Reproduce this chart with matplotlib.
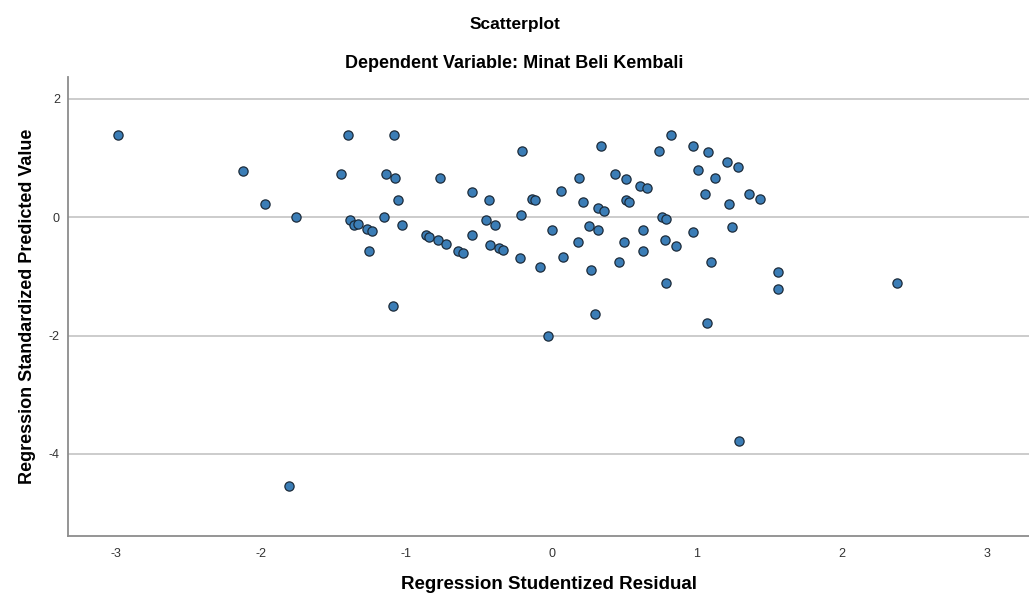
import numpy as np
import matplotlib
matplotlib.use("Agg")
import matplotlib.pyplot as plt

plt.rcParams['font.family'] = ['Liberation Sans', 'DejaVu Sans']
plt.rcParams['axes.unicode_minus'] = False

# studentized residual (x) and standardized predicted value (y)
resid = [-2.989, -2.129, -1.973, -1.762, -1.450, -1.404, -1.392, -1.363, -1.337, -1.271,
         -1.237, -1.257, -1.156, -1.138, -1.087, -1.078, -1.060, -1.028, -1.096, -0.867,
         -0.847, -0.785, -0.727, -0.766, -0.645, -0.610, -0.546, -0.551, -0.434, -0.452,
         -0.392, -0.427, -0.363, -0.332, -0.218, -0.213, -0.206, -0.138, -0.115, -0.081,
         -0.028, 0.000, 0.062, 0.076, 0.179, 0.186, 0.220, 0.257, 0.270, 0.298,
         0.317, 0.317, 0.344, 0.358, 0.438, 0.468, 0.496, 0.516, 0.516, 0.537,
         0.610, 0.656, 0.633, 0.628, 0.738, 0.759, 0.791, 0.785, 0.789, 0.860,
         0.826, 0.975, 1.010, 0.977, 1.076, 1.127, 1.055, 1.096, 1.069, 1.209,
         1.285, 1.220, 1.246, 1.358, 1.436, 1.558, 1.558, 2.381, -1.811, 1.294]
pred = [1.390, 0.782, 0.220, 0.010, 0.736, 1.390, -0.051, -0.130, -0.118, -0.203,
        -0.236, -0.574, 0.010, 0.736, 1.390, 0.664, 0.287, -0.125, -1.498, -0.304,
        -0.328, -0.389, -0.456, 0.664, -0.574, -0.598, 0.422, -0.304, 0.287, -0.051,
        -0.125, -0.463, -0.524, -0.552, -0.682, 0.034, 1.120, 0.309, 0.287, -0.840,
        -2.000, -0.209, 0.444, -0.666, -0.417, 0.664, 0.264, -0.142, -0.890, -1.633,
        0.157, -0.209, 1.209, 0.106, 0.736, -0.755, -0.417, 0.647, 0.287, 0.264,
        0.534, 0.490, -0.209, -0.574, 1.120, 0.010, -0.029, -0.389, -1.115, -0.480,
        1.390, 1.209, 0.804, -0.253, 1.098, 0.664, 0.399, -0.755, -1.791, 0.939,
        0.850, 0.220, -0.164, 0.399, 0.309, -0.919, -1.211, -1.115, -4.551, -3.779]

xticks = [-3, -2, -1, 0, 1, 2, 3]
yticks = [-4, -2, 0, 2]

fig = plt.figure(figsize=(10.29, 6), dpi=100)
ax = fig.add_axes([0.0664, 0.1067, 0.9336, 0.7655])

ax.scatter(resid, pred, s=44, c='#3b7db6', edgecolors='#1c2b3a', linewidths=0.9, zorder=3)

ax.set_xlim(-3.33, 3.29)
ax.set_ylim(-5.39, 2.377)
ax.set_xticks(xticks)
ax.set_yticks(yticks)
ax.tick_params(length=0, labelsize=9, labelcolor='#333333')
ax.tick_params(axis='x', pad=9)
ax.tick_params(axis='y', pad=6)
ax.yaxis.grid(True, color='#c8c8c8', linewidth=1.3)
ax.set_axisbelow(True)

for side in ['top', 'right']:
    ax.spines[side].set_visible(False)
for side in ['left', 'bottom']:
    ax.spines[side].set_color('#8c8c8c')
    ax.spines[side].set_linewidth(1.3)

ax.set_xlabel('Regression Studentized Residual', fontsize=13.5, fontweight='bold', labelpad=11)
ax.set_ylabel('Regression Standardized Predicted Value', fontsize=13, fontweight='bold', labelpad=9)

fig.text(0.5, 1 - 25 / 600, 'Scatterplot', ha='center', va='center', fontsize=12.5, fontweight='bold')
fig.text(0.5, 1 - 63 / 600, 'Dependent Variable: Minat Beli Kembali', ha='center', va='center',
         fontsize=13, fontweight='bold')

fig.savefig('out.png', dpi=100)
